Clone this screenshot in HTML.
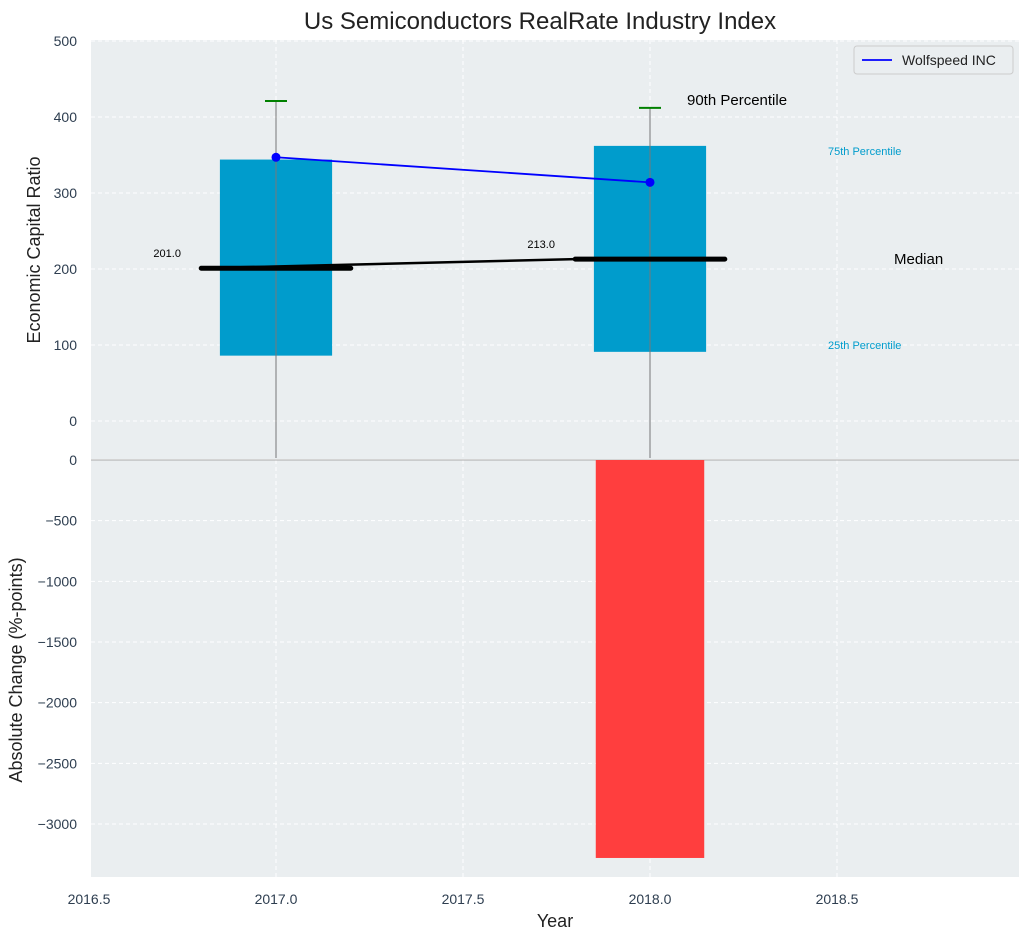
<!DOCTYPE html>
<html><head><meta charset="utf-8"><style>
body{margin:0;background:#fff;font-family:"Liberation Sans",sans-serif;}
svg text{font-family:"Liberation Sans",sans-serif;}
</style></head><body>
<svg id="c" width="1029" height="940" xmlns="http://www.w3.org/2000/svg"></svg>
<script>
const years=[2017,2018];
const p25=[86,91];
const p75=[344,362];
const p90=[421,412];
const medians=[201,213];
const companyVals=[347,314];
const changes=[0,-3280];
const topTicks=[0,100,200,300,400,500];
const botTicks=[0,-500,-1000,-1500,-2000,-2500,-3000];
const xTicks=[2016.5,2017,2017.5,2018,2018.5];

const svg=document.getElementById('c');
const NS='http://www.w3.org/2000/svg';
function el(t,a,p){const e=document.createElementNS(NS,t);for(const k in a)e.setAttribute(k,a[k]);(p||svg).appendChild(e);return e;}
const X0=91,X1=1019;
const x=v=>276+(v-2017)*374;
const yT=v=>421-v*0.76;
const yb=v=>460+(-v)*0.12133;
const TT=40,TB=459,BT=460,BB=877;

let r=el('rect',{x:X0,y:TT,width:X1-X0,height:TB-TT,fill:'#eaeef0'});

r=el('rect',{x:X0,y:BT,width:X1-X0,height:BB-BT,fill:'#eaeef0'});


xTicks.forEach(v=>{
  el('line',{x1:x(v),x2:x(v),y1:TT,y2:BB,stroke:'#fff','stroke-dasharray':'4,3','stroke-width':1});
  const t=el('text',{x:x(v),y:904,'text-anchor':'middle','font-size':14,fill:'#2e3e50'});t.textContent=v.toFixed(1);
  
});
topTicks.forEach(v=>{
  el('line',{x1:X0,x2:X1,y1:yT(v),y2:yT(v),stroke:'#fff','stroke-dasharray':'4,3'});
  const t=el('text',{x:77,y:yT(v)+5,'text-anchor':'end','font-size':14,fill:'#2e3e50'});t.textContent=v;
  
});
botTicks.forEach(v=>{
  el('line',{x1:X0,x2:X1,y1:yb(v),y2:yb(v),stroke:'#fff','stroke-dasharray':'4,3'});
  const t=el('text',{x:77,y:yb(v)+5,'text-anchor':'end','font-size':14,fill:'#2e3e50'});t.textContent=v===0?'0':'\u2212'+(-v);
  
});
el('line',{x1:X0,x2:X1,y1:460,y2:460,stroke:'#aaa','stroke-width':1});

years.forEach((yr,i)=>{
  let b=el('rect',{x:x(yr-0.15),y:yT(p75[i]),width:x(yr+0.15)-x(yr-0.15),height:yT(p25[i])-yT(p75[i]),fill:'#009ccc'});
  
  let w=el('line',{x1:x(yr),x2:x(yr),y1:TB-1,y2:yT(p90[i]),stroke:'#777','stroke-width':1});
  
  let c=el('line',{x1:x(yr)-11,x2:x(yr)+11,y1:yT(p90[i]),y2:yT(p90[i]),stroke:'green','stroke-width':2});
  
  let m=el('line',{x1:x(yr-0.2),x2:x(yr+0.2),y1:yT(medians[i]),y2:yT(medians[i]),stroke:'#000','stroke-width':5,'stroke-linecap':'round'});
  
  let t=el('text',{x:x(yr-0.2)-34,y:yT(medians[i])-11,'text-anchor':'middle','font-size':11,fill:'#000'});t.textContent=medians[i].toFixed(1);
  
  if(changes[i]!==0){
    let rb=el('rect',{x:x(yr-0.145),y:yb(0),width:x(yr+0.145)-x(yr-0.145),height:yb(changes[i])-yb(0),fill:'#ff3e3e'});
    
  }
});
let ml=el('line',{x1:x(years[0]-0.2),x2:x(years[1]-0.2),y1:yT(medians[0]),y2:yT(medians[1]),stroke:'#000','stroke-width':2.5});

let pl=el('polyline',{points:years.map((y,i)=>x(y)+','+yT(companyVals[i])).join(' '),fill:'none',stroke:'blue','stroke-width':1.8});

years.forEach((y,i)=>{let p=el('circle',{cx:x(y),cy:yT(companyVals[i]),r:4.5,fill:'blue'});
});

function txt(s,a,n){const t=el('text',a);t.textContent=s;return t;}
txt('90th Percentile',{x:687,y:105,'font-size':15,fill:'#000'},'p90-annotation');
txt('75th Percentile',{x:828,y:155,'font-size':11,fill:'#009ccc'},'p75-annotation');
txt('Median',{x:894,y:264,'font-size':15,fill:'#000'},'median-annotation');
txt('25th Percentile',{x:828,y:349,'font-size':11,fill:'#009ccc'},'p25-annotation');
txt('Us Semiconductors RealRate Industry Index',{x:540,y:29,'text-anchor':'middle','font-size':24,fill:'#222'},'chart-title');
txt('Economic Capital Ratio',{x:40,y:250,'text-anchor':'middle','font-size':18,fill:'#222',transform:'rotate(-90 40 250)'},'top-y-axis-title');
txt('Absolute Change (%-points)',{x:22,y:670,'text-anchor':'middle','font-size':18,fill:'#222',transform:'rotate(-90 22 670)'},'bottom-y-axis-title');
txt('Year',{x:555,y:927,'text-anchor':'middle','font-size':18,fill:'#222'},'x-axis-title');

const lg=el('g',{});
el('rect',{x:854,y:46,width:159,height:28,fill:'#eaeef0',stroke:'#ccc',rx:3},lg);
el('line',{x1:862,x2:892,y1:60,y2:60,stroke:'blue','stroke-width':1.8},lg);
const lt=el('text',{x:902,y:65,'font-size':14,fill:'#222'},lg);lt.textContent='Wolfspeed INC';
</script>
</body></html>
